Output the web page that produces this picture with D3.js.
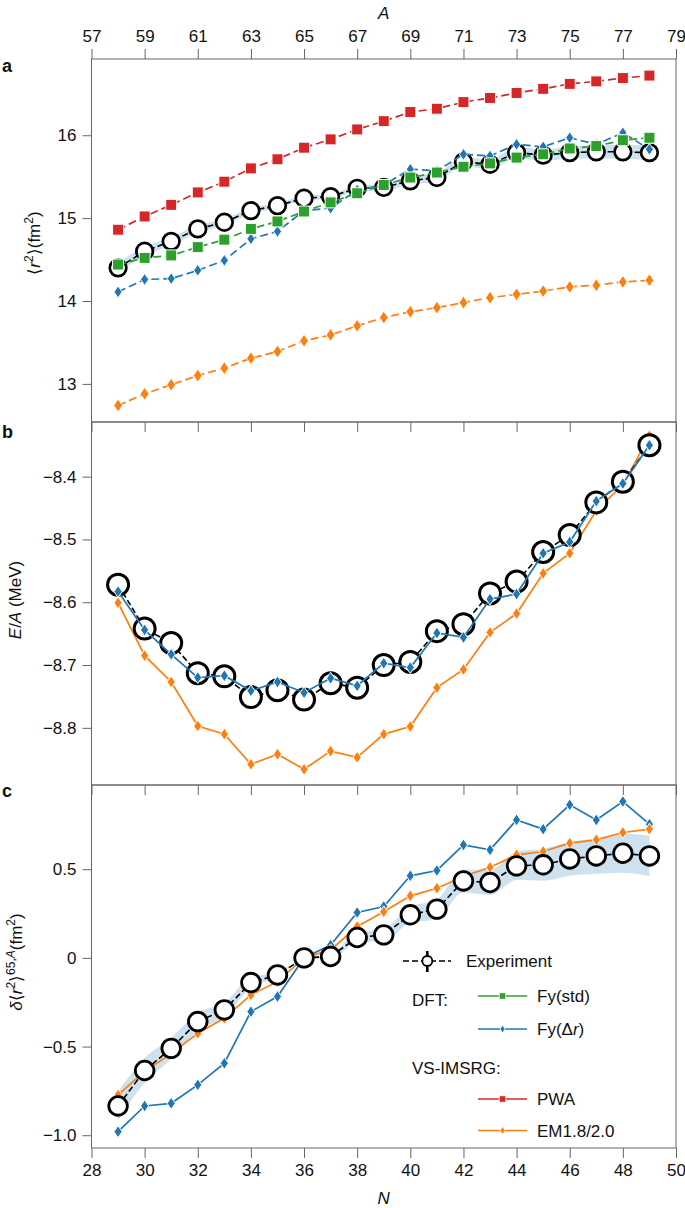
<!DOCTYPE html>
<html><head><meta charset="utf-8">
<script src="https://cdn.jsdelivr.net/npm/d3@7"></script>
<style>
body{margin:0;background:#fff}
svg{display:block}
text{font-family:"Liberation Sans",Arial,Helvetica,sans-serif;fill:#111}
</style>
</head><body><svg id="c" width="685" height="1208"></svg>
<script>
// ---------------- data ----------------
const neutrons = [29,30,31,32,33,34,35,36,37,38,39,40,41,42,43,44,45,46,47,48,49];
// panel a: <r^2> (fm^2)
const expR2  = [14.40,14.60,14.72,14.87,14.95,15.09,15.15,15.24,15.26,15.36,15.37,15.45,15.49,15.68,15.65,15.79,15.76,15.79,15.80,15.80,15.79];
const uncR2  = [0.06,0.055,0.05,0.045,0.04,0.035,0.03,0.03,0.03,0.035,0.04,0.045,0.05,0.055,0.06,0.065,0.07,0.075,0.08,0.085,0.09];
const fyStdR2= [14.44,14.52,14.55,14.65,14.74,14.87,14.96,15.08,15.19,15.30,15.40,15.49,15.55,15.62,15.66,15.73,15.77,15.84,15.87,15.94,15.97];
const fyDrR2 = [14.11,14.26,14.27,14.37,14.49,14.75,14.84,15.09,15.12,15.34,15.40,15.59,15.57,15.77,15.75,15.89,15.86,15.97,15.89,16.03,15.83];
const pwaR2  = [14.86,15.02,15.16,15.31,15.44,15.60,15.71,15.85,15.95,16.07,16.17,16.28,16.32,16.40,16.45,16.51,16.56,16.62,16.65,16.69,16.72];
const emR2   = [12.74,12.88,12.99,13.10,13.19,13.31,13.39,13.52,13.59,13.70,13.80,13.87,13.92,13.98,14.04,14.08,14.12,14.17,14.19,14.23,14.25];
// panel b: E/A (MeV)
const expEA  = [-8.572,-8.642,-8.665,-8.713,-8.718,-8.751,-8.740,-8.755,-8.729,-8.736,-8.700,-8.695,-8.646,-8.635,-8.586,-8.567,-8.520,-8.493,-8.441,-8.408,-8.350];
const fyDrEA = [-8.583,-8.644,-8.683,-8.720,-8.717,-8.741,-8.727,-8.744,-8.721,-8.733,-8.697,-8.704,-8.649,-8.656,-8.595,-8.587,-8.522,-8.504,-8.439,-8.411,-8.350];
const emEA   = [-8.601,-8.685,-8.727,-8.797,-8.810,-8.858,-8.842,-8.866,-8.837,-8.847,-8.810,-8.798,-8.736,-8.707,-8.648,-8.618,-8.554,-8.522,-8.454,-8.413,-8.335];
// panel c: delta <r^2>^{65,A} (fm^2)
const expD   = [-0.835,-0.635,-0.510,-0.359,-0.293,-0.139,-0.096,0,0.008,0.115,0.130,0.243,0.275,0.434,0.425,0.519,0.525,0.558,0.575,0.590,0.575];
const uncD   = [0.08,0.07,0.06,0.05,0.04,0.03,0.015,0,0.015,0.025,0.035,0.045,0.055,0.065,0.07,0.08,0.09,0.095,0.10,0.11,0.115];
const fyDrD  = [-0.980,-0.835,-0.820,-0.716,-0.594,-0.303,-0.218,0,0.073,0.256,0.290,0.463,0.493,0.637,0.609,0.778,0.726,0.863,0.778,0.882,0.754];
const emD    = [-0.773,-0.640,-0.540,-0.425,-0.340,-0.209,-0.134,0,0.045,0.177,0.260,0.350,0.393,0.459,0.511,0.581,0.600,0.647,0.666,0.707,0.726];
// ticks
const nTicks = [28,30,32,34,36,38,40,42,44,46,48,50];
const aTicks = [57,59,61,63,65,67,69,71,73,75,77,79];
const yTicksA = [13,14,15,16];
const yTicksB = [-8.8,-8.7,-8.6,-8.5,-8.4];
const yTicksC = [-1.0,-0.5,0,0.5];

// ---------------- setup ----------------
const C = {red:"#d62728", green:"#2ca02c", blue:"#1f77b4", orange:"#ff7f0e"};
const svg = d3.select("#c");
const X0 = 91.5, X1 = 676;
const x = d3.scaleLinear().domain([28,50]).range([X0,X1]);
const xA = d3.scaleLinear().domain([57,79]).range([X0,X1]);
const FS = 17;
const minus = s => s.replace("-", "\u2212");

const panels = [
  {top:59, bot:422, dom:[12.54,16.92], ticks:yTicksA, fmt:d=>String(d), letter:"a"},
  {top:422, bot:785, dom:[-8.891,-8.313], ticks:yTicksB, fmt:d=>minus(d3.format(".1f")(d)), letter:"b"},
  {top:785, bot:1148, dom:[-1.072,0.975], ticks:yTicksC, fmt:d=>d===0?"0":minus(d3.format(".1f")(d)), letter:"c"}
];
panels.forEach(p => p.y = d3.scaleLinear().domain(p.dom).range([p.bot,p.top]));

function styleAxis(g){
  g.select(".domain").remove();
  g.selectAll(".tick line").attr("stroke","#666").attr("stroke-width",1);
  g.selectAll(".tick text").attr("font-size",FS).attr("fill","#111")
   .style("font-family",'"Liberation Sans",Arial,sans-serif');
}

// frames & axes
panels.forEach((p,i) => {
  const last = i === 2;
  svg.append("g").attr("transform",`translate(0,${p.bot})`)
    .call(d3.axisBottom(x).tickValues(nTicks).tickSize(10).tickPadding(6)
      .tickFormat(last ? d3.format("d") : () => ""))
    .call(styleAxis);
  svg.append("g").attr("transform",`translate(${X0},0)`)
    .call(d3.axisLeft(p.y).tickValues(p.ticks).tickSize(9).tickPadding(6).tickFormat(p.fmt))
    .call(styleAxis);
  svg.append("rect").attr("x",X0).attr("y",p.top).attr("width",X1-X0).attr("height",p.bot-p.top)
    .attr("fill","none").attr("stroke","#666").attr("stroke-width",1);
});
svg.append("g").attr("transform",`translate(0,${panels[0].top})`)
  .call(d3.axisTop(xA).tickValues(aTicks).tickSize(10).tickPadding(7).tickFormat(d3.format("d")))
  .call(styleAxis);

// panel letters
panels.forEach((p,i) => {
  svg.append("text").attr("x",2).attr("y",[72,438,797][i]).attr("font-size",18)
    .attr("font-weight","bold").text(p.letter);
});

// axis titles
svg.append("text").attr("x",(X0+X1)/2).attr("y",19).attr("text-anchor","middle")
  .attr("font-size",FS).attr("font-style","italic").text("A");
svg.append("text").attr("x",(X0+X1)/2).attr("y",1204).attr("text-anchor","middle")
  .attr("font-size",FS).attr("font-style","italic").text("N");

function ylabel(cx, cy, parts){
  const t = svg.append("text").attr("transform",`translate(${cx},${cy}) rotate(-90)`)
    .attr("text-anchor","middle").attr("font-size",FS);
  let shift = 0;
  parts.forEach(([s, opt]) => {
    const ts = t.append("tspan").text(s);
    opt = opt || {};
    const target = opt.sup ? -7 : 0;
    if (target !== shift) { ts.attr("dy", target - shift); shift = target; }
    if (opt.sup) ts.attr("font-size",12);
    if (opt.it) ts.attr("font-style","italic");
  });
}
ylabel(40, 243, [["\u27E8"],["r",{it:1}],["2",{sup:1}],["\u27E9(fm"],["2",{sup:1}],[")"]]);
ylabel(21, 600, [["E",{it:1}],["/"],["A",{it:1}],[" (MeV)"]]);
ylabel(22, 962, [["\u03B4",{it:1}],["\u27E8"],["r",{it:1}],["2",{sup:1}],["\u27E9"],["65,",{sup:1}],["A",{sup:1,it:1}],["(fm"],["2",{sup:1}],[")"]]);

// ---------------- marks ----------------
function diamondPath(cx,cy,w,h){return `M${cx},${cy-h/2}L${cx+w/2},${cy}L${cx},${cy+h/2}L${cx-w/2},${cy}Z`;}
function squarePath(cx,cy,s){return `M${cx-s/2},${cy-s/2}h${s}v${s}h${-s}Z`;}

function band(p, vals, unc){
  const data = neutrons.map((n,i)=>({n, lo:vals[i]-unc[i], hi:vals[i]+unc[i]}));
  svg.append("path").datum(data)
    .attr("d", d3.area().x(d=>x(d.n)).y0(d=>p.y(d.lo)).y1(d=>p.y(d.hi)).curve(d3.curveMonotoneX))
    .attr("fill", C.blue).attr("fill-opacity",0.22).attr("stroke","none");
}
function series(p, vals, o){
  const data = neutrons.map((n,i)=>({n, v:vals[i]}));
  const g = svg.append("g");
  g.append("path").datum(data)
    .attr("d", d3.line().x(d=>x(d.n)).y(d=>p.y(d.v)))
    .attr("fill","none").attr("stroke",o.color).attr("stroke-width",o.lw||1.7)
    .attr("stroke-dasharray", o.dash || null);
  data.forEach(d=>{
    const cx = x(d.n), cy = p.y(d.v);
    if (o.marker === "circle") {
      g.append("circle").attr("cx",cx).attr("cy",cy).attr("r",o.size)
        .attr("fill","#fff").attr("stroke","#000").attr("stroke-width",o.sw||2.7);
    } else if (o.marker === "square") {
      g.append("path").attr("d",squarePath(cx,cy,o.size)).attr("fill",o.color)
        .attr("stroke","#fff").attr("stroke-width",1);
    } else {
      g.append("path").attr("d",diamondPath(cx,cy,o.size*0.68,o.size)).attr("fill",o.color)
        .attr("stroke","#fff").attr("stroke-width",1);
    }
  });
}

// Panel a
const pa = panels[0];
band(pa, expR2, uncR2);
series(pa, pwaR2, {color:C.red, marker:"square", size:11, dash:"8,4"});
series(pa, emR2, {color:C.orange, marker:"diamond", size:13, dash:"8,4"});
series(pa, expR2, {color:"#000", marker:"circle", size:8.3, dash:"6,3", lw:1.6});
series(pa, fyDrR2, {color:C.blue, marker:"diamond", size:12, dash:"8,4"});
series(pa, fyStdR2, {color:C.green, marker:"square", size:11, dash:"8,4"});

// Panel b
const pb = panels[1];
series(pb, emEA, {color:C.orange, marker:"diamond", size:12});
series(pb, expEA, {color:"#000", marker:"circle", size:10.5, dash:"6,3", lw:1.6, sw:3});
series(pb, fyDrEA, {color:C.blue, marker:"diamond", size:12});

// Panel c
const pc = panels[2];
band(pc, expD, uncD);
series(pc, fyDrD, {color:C.blue, marker:"diamond", size:12});
series(pc, emD, {color:C.orange, marker:"diamond", size:12});
series(pc, expD, {color:"#000", marker:"circle", size:9.3, dash:"6,3", lw:1.6, sw:2.8});

// ---------------- legend ----------------
const lg = svg.append("g");
// Experiment
lg.append("line").attr("x1",403).attr("x2",451).attr("y1",961).attr("y2",961)
  .attr("stroke","#000").attr("stroke-width",1.6).attr("stroke-dasharray","6,3");
lg.append("line").attr("x1",427.3).attr("x2",427.3).attr("y1",951).attr("y2",972)
  .attr("stroke","#000").attr("stroke-width",2.6);
lg.append("circle").attr("cx",427.3).attr("cy",961).attr("r",5)
  .attr("fill","#fff").attr("stroke","#000").attr("stroke-width",1.8);
lg.append("text").attr("x",466).attr("y",967).attr("font-size",FS).text("Experiment");
lg.append("text").attr("x",412).attr("y",1006).attr("font-size",FS).text("DFT:");
lg.append("text").attr("x",412).attr("y",1074).attr("font-size",FS).text("VS-IMSRG:");

const legItems = [
  {y:996, color:C.green, marker:"square", label:[["Fy(std)"]]},
  {y:1029, color:C.blue, marker:"diamond", label:[["Fy(\u0394"],["r",1],[")"]]},
  {y:1099, color:C.red, marker:"square", label:[["PWA"]]},
  {y:1130.5, color:C.orange, marker:"diamond", label:[["EM1.8/2.0"]]}
];
legItems.forEach(it=>{
  lg.append("line").attr("x1",478).attr("x2",527).attr("y1",it.y).attr("y2",it.y)
    .attr("stroke",it.color).attr("stroke-width",1.7);
  const d = it.marker==="square" ? squarePath(502.5,it.y,6.5) : diamondPath(502.5,it.y,5,8);
  lg.append("path").attr("d",d).attr("fill",it.color).attr("stroke","#fff").attr("stroke-width",0.8);
  const t = lg.append("text").attr("x",537).attr("y",it.y+6).attr("font-size",FS);
  it.label.forEach(([s,itl])=>{const ts=t.append("tspan").text(s); if(itl) ts.attr("font-style","italic");});
});
</script>
</body></html>
